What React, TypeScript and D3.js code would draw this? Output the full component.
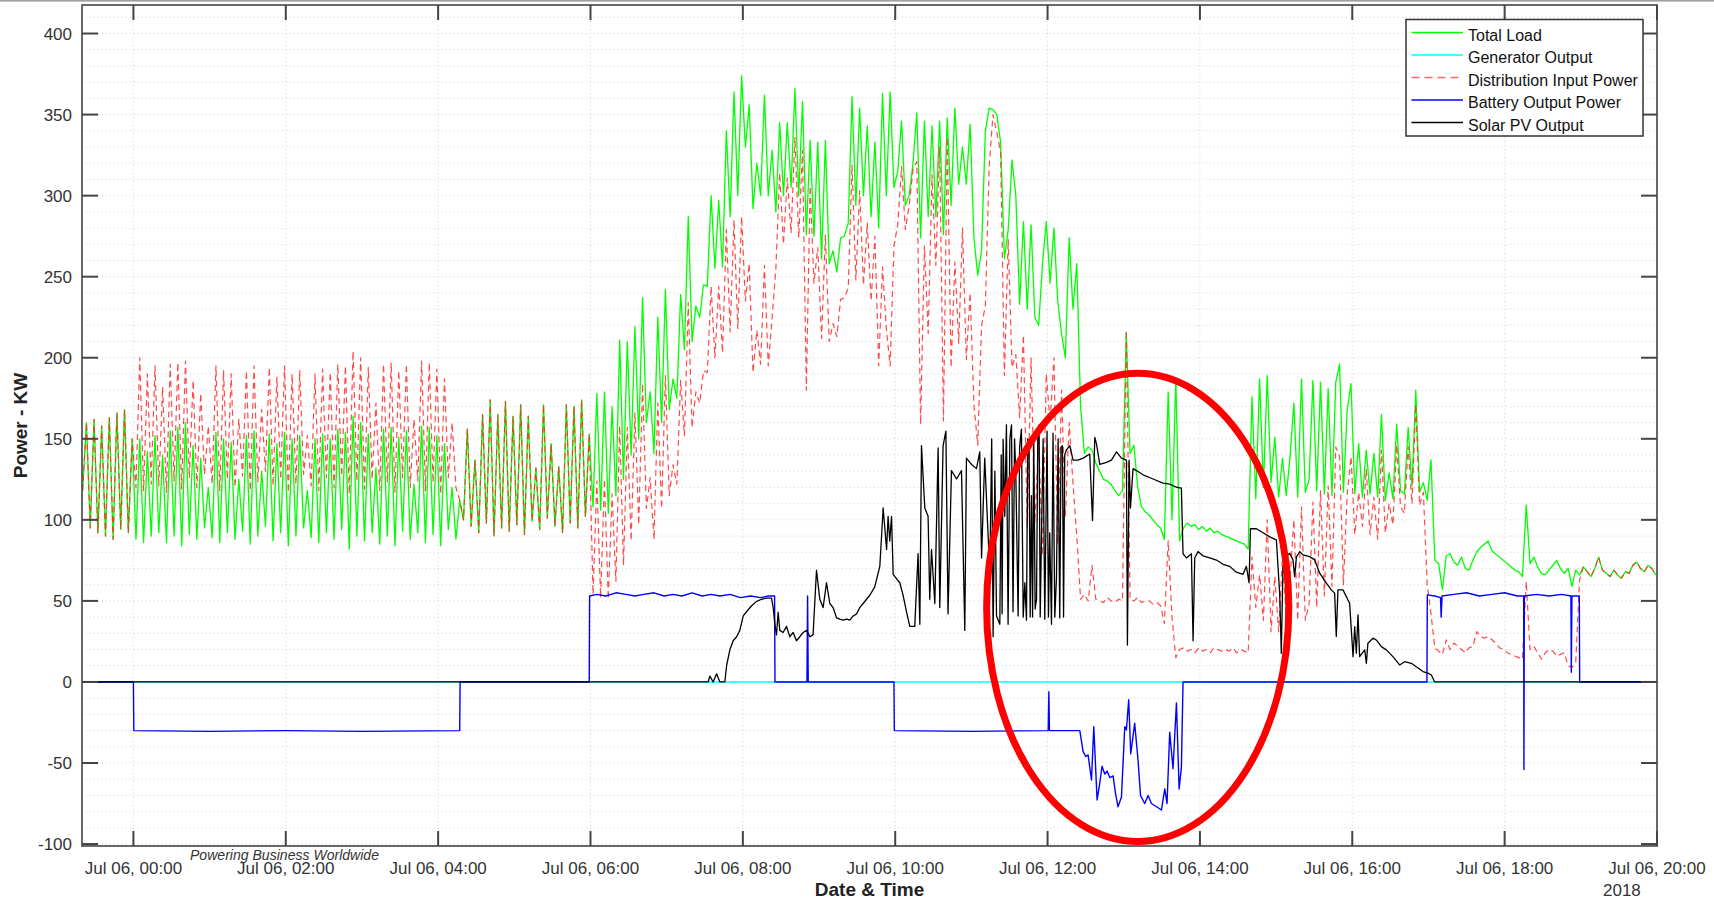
import React from 'react';
import * as d3 from 'd3';

// Time axis in minutes from Jul 06 00:00; load & distribution sampled every 3 minutes from -40.
const T0 = -40;
const STEP = 3;

const loadKw = [
  118,160,95,162,92,158,90,163,88,166,94,168,92,150,88,150,86,142,90,152,
  92,140,86,155,90,157,84,160,91,146,88,138,95,120,89,154,86,150,92,148,
  88,125,93,152,85,155,90,130,96,153,87,147,92,154,84,150,90,152,95,118,
  89,150,86,153,92,150,88,156,94,154,82,164,90,160,87,153,92,132,85,156,
  90,157,84,151,93,155,88,122,92,158,86,157,91,152,84,147,94,120,88,112,
  100,156,96,137,92,165,98,174,90,165,95,173,93,164,97,171,91,164,99,132,
  94,171,101,147,96,133,92,171,98,170,95,174,102,153,108,178,106,179,104,170,
  115,211,125,210,140,219,150,237,160,179,141,225,160,242,168,187,175,239,205,287,
  210,232,225,245,244,300,255,297,256,340,287,364,300,374,330,356,292,320,300,362,
  300,328,290,345,300,345,305,366,300,358,276,334,275,333,261,334,258,266,253,274,
  275,283,361,294,354,300,343,287,333,280,363,300,364,305,315,346,294,300,320,351,
  274,346,287,343,287,346,276,348,294,354,307,330,307,344,274,251,266,340,354,353,
  350,333,261,279,322,300,233,284,230,282,225,220,258,284,246,280,235,215,200,274,
  230,258,170,141,145,143,135,130,125,124,122,118,115,118,215,141,146,120,108,105,
  103,100,97,95,88,179,100,187,87,95,98,96,97,94,96,93,95,92,93,91,
  90,89,88,87,86,85,82,176,113,187,120,189,123,151,114,138,115,139,172,114,
  187,117,125,186,118,185,116,181,115,185,196,117,168,184,116,147,114,143,116,141,
  114,165,112,129,113,159,118,116,157,121,180,117,123,112,137,75,73,57,78,79,
  74,72,77,70,69,75,80,83,85,87,81,79,77,75,73,71,69,68,65,109,
  73,77,71,67,66,69,72,75,70,67,70,59,69,66,71,68,65,70,77,69,
  67,65,69,66,64,68,67,72,74,70,68,72,70,66,
];

const distributionKw = [
  118,160,95,162,92,158,90,163,88,166,94,168,92,150,120,200,118,190,122,195,
  121,182,117,196,124,197,119,198,126,186,120,178,128,158,122,195,118,192,125,190,
  120,162,127,192,118,195,123,168,130,194,121,188,125,195,117,190,122,192,128,152,
  121,190,118,193,126,191,120,196,127,195,116,204,124,200,119,194,125,172,118,196,
  123,197,117,192,126,196,120,162,124,198,118,197,123,193,116,187,126,160,120,112,
  100,156,96,137,92,165,98,174,90,165,95,173,93,164,97,171,91,164,99,132,
  94,171,101,147,96,133,92,171,98,170,95,174,102,153,54,124,52,125,51,116,
  62,158,72,157,87,166,97,184,107,126,88,172,107,189,115,134,122,186,152,234,
  157,179,172,192,191,244,200,244,203,279,216,285,218,287,235,258,191,217,196,257,
  195,224,255,314,270,311,277,336,274,328,180,306,246,268,212,276,210,221,213,236,
  237,243,319,248,303,245,283,235,275,195,256,218,195,269,282,318,279,294,316,321,
  159,269,215,313,257,330,161,336,194,259,209,280,199,240,171,146,220,232,318,350,
  339,327,189,273,194,202,163,214,95,200,98,150,78,190,160,200,85,180,102,160,
  123,90,51,54,50,72,51,50,49,52,50,49,51,50,217,51,50,52,49,50,
  50,48,49,47,36,87,40,15,20,21,19,20,18,21,19,20,18,21,20,19,
  20,19,21,18,20,19,18,77,46,66,38,100,31,65,31,77,40,64,100,38,
  108,38,48,111,46,118,53,121,59,145,139,60,116,139,91,117,96,131,91,114,
  88,143,92,110,97,146,108,104,145,110,171,109,117,60,42,21,19,17,26,20,
  24,22,20,18,21,22,31,28,27,28,26,24,21,20,18,17,16,15,14,62,
  20,22,18,14,18,20,19,16,17,18,10,9,12,63,71,68,65,70,77,69,
  67,65,69,66,64,68,67,72,74,70,68,72,70,66,
];

// [minute, kW]
const generatorKw: [number, number][] = [[-40.5, 0], [1200, 0]];

const batteryKw: [number, number][] = [
  [-40.5,0],[0,0],[0.3,-30],[60,-30.5],[120,-30],[180,-30.5],[257,-30],[257.3,0],[359,0],[359.3,53],
  [365,54],[372,53],[380,55],[388,54],[395,53],[402,54],[410,55],[418,53],[425,54],[432,53],
  [440,55],[448,53],[455,54],[462,53],[470,54],[478,52],[486,53],[494,52],[500,53],[505,53],
  [505.3,0],[530.5,0],[531,53],[531.5,0],[599,0],[599.3,-30],[660,-30.5],[720.5,-30],[721,-6],[721.5,-30],
  [745.4,-30],[748,-43],[750.1,-46],[751.9,-45],[754.6,-60.5],[756.4,-27.6],[759,-72.8],[761.1,-62.5],[762.9,-52],[765,-56.8],
  [766.9,-55],[769,-59],[771.6,-58],[773.5,-68.7],[775.5,-77],[778.2,-71],[780.8,-27.6],[782.1,-29.6],[783.9,-11],[785.5,-44.4],
  [788.6,-25.5],[791.3,-48.6],[793.2,-70],[796.5,-75],[799.2,-70],[801.8,-75],[805.8,-77],[809.7,-79],[812.3,-66],[814.1,-75],
  [816.2,-31],[818.8,-53.5],[821.5,-13],[823.6,-66],[825.4,-52.7],[826.7,0],[1018.8,0],[1019.1,53.7],[1025,53],[1029.5,52],
  [1030,40],[1030.7,53],[1040,54],[1050,55],[1060,53],[1070,54],[1080,55],[1090,53],[1095,53],[1095.2,-54],
  [1095.5,53],[1105,54],[1115,53],[1125,54],[1132.2,53],[1132.5,6],[1133,53],[1138.8,53],[1139.1,0],[1200,0],
];

const solarKw: [number, number][] = [
  [-40.5,0],[452.7,0],[454,3.6],[456.6,0],[459.3,5],[461.9,0],[465.8,0],[467.2,10],[469.8,20],[472.4,25.4],
  [475.1,27.9],[477.6,31.8],[480.3,40.7],[482.9,43.3],[486.9,47],[490.8,49.7],[494.7,51],[498.7,51.7],[502.6,51.7],[503.9,45.9],
  [505.2,35.6],[506.5,29],[507.8,43],[509.1,31.8],[511.7,30.5],[514.4,34.3],[517,27.9],[519.6,30.5],[522.2,25.4],[524.9,27.9],
  [527.5,30.5],[530.2,31.8],[532.8,27.9],[535.3,29],[538,68.9],[540.6,51],[543.2,45.9],[545.9,61.2],[548.5,48.4],[551.1,45.9],
  [553.8,39.5],[556.4,38.7],[559,38.1],[561.7,38.7],[564.3,38.1],[566.9,40.7],[569.6,42],[572.1,45.9],[574.7,48.4],[577.4,51],
  [580,53.5],[583.9,58.6],[587.9,71.5],[590.5,107.3],[593.2,81.7],[594.4,102.2],[595.7,86.9],[597.1,102.2],[598.4,66.4],[601,63.8],
  [603.6,61.2],[606.2,53.5],[608.9,43.3],[611.5,34.3],[615.4,34.3],[618,79.1],[619.4,35.6],[620.7,145.7],[623.3,107.3],[625.9,102.2],
  [627.2,51],[628.6,81.7],[631.2,48.4],[633.8,144.4],[635.1,45.9],[637.7,145.7],[639.9,154.7],[641.6,42],[644.3,130.4],[648.3,125.2],
  [652.2,130.4],[654.8,31.8],[656.1,138.1],[660.1,134.2],[664,131.6],[666.6,141.9],[668,76.5],[670.5,138.1],[674.5,66.4],[676,150],
  [677.1,27.9],[678.5,130],[679.8,40.7],[682.4,35.6],[683.5,140],[684.2,42],[685,149.6],[686.3,102.2],[687.6,158.6],[688.9,35.6],
  [690.3,150],[691.6,158.6],[692.8,43.3],[694,150],[695,127.8],[696.8,40.7],[698,145],[699.4,156],[700.8,40],[702.1,61.2],
  [703.4,38.1],[704.4,150],[705.4,148.3],[706.3,40],[707.3,115],[708.2,40],[709.1,152.2],[710.2,45],[711.3,51],[712.3,150],
  [713.3,158.6],[714.2,40],[715.2,89.4],[716.5,150],[717.8,38.7],[719.6,154.7],[720.7,40],[721.7,92],[723.1,35.6],[724.3,153.5],
  [725.7,40],[727,63.8],[728.3,150],[729.6,39.5],[730.6,145],[731.7,145.7],[732.6,40],[733.5,140],[734.9,143.2],[737.5,145.7],
  [740.1,136.8],[744,136.8],[748,138.1],[753.2,140.6],[755.4,99.6],[757.2,150.9],[758.5,147],[761.1,134.2],[766.4,135.5],[770.3,136.8],
  [774.3,141.9],[778.2,138.1],[782.1,136.8],[782.9,22.8],[784.2,136.8],[785.3,107.3],[787.3,131.6],[790,130.4],[795.2,127.8],[803.1,125.2],
  [810.9,122.7],[816.2,122],[821.5,120.1],[825.4,119.5],[826.7,79.1],[829.4,76.5],[833.3,79.1],[834.6,25.4],[835.9,76.5],[838.5,80.4],
  [842.4,77.8],[847.7,76.5],[853,75.2],[858.2,72.6],[863.5,71.3],[868.7,67.7],[873.9,66.4],[876.6,71.3],[878.7,61.2],[879.8,94.5],
  [884.5,94.5],[889.7,92],[895,89.5],[900.2,87.7],[902.8,54.7],[904.1,17.7],[905.4,71.2],[908.1,77.3],[910.7,79.4],[913.3,75.3],
  [914.6,65],[916,77],[918.6,80.4],[921.2,78.4],[926.4,77.3],[930.4,75.3],[934.3,67.1],[939.6,60.9],[943.5,56.8],[946.1,54.8],
  [947.4,28],[948.7,56.8],[952.7,56.8],[957.9,48.6],[960.6,15.6],[961.9,34.1],[963.2,17.7],[964.5,41.4],[965.8,15.6],[969.8,19.8],
  [971.1,11.5],[972.3,23.9],[976.3,27],[978.9,25.9],[982.9,21.8],[986.8,19.8],[992,15.6],[997.3,10.5],[1001.2,12.5],[1006.5,11.5],
  [1010.4,9.4],[1015.7,6.4],[1019.6,5.4],[1022.3,4.3],[1024.9,0],[1200,0],
];

const xTickMinutes = [0, 120, 240, 360, 480, 600, 720, 840, 960, 1080, 1200];
const xTickLabels = [
  'Jul 06, 00:00', 'Jul 06, 02:00', 'Jul 06, 04:00', 'Jul 06, 06:00', 'Jul 06, 08:00', 'Jul 06, 10:00',
  'Jul 06, 12:00', 'Jul 06, 14:00', 'Jul 06, 16:00', 'Jul 06, 18:00', 'Jul 06, 20:00',
];
const yTicks = [-100, -50, 0, 50, 100, 150, 200, 250, 300, 350, 400];
const yMinorGrid = d3.range(-100, 411, 10);

const legendNames = ['Total Load', 'Generator Output', 'Distribution Input Power', 'Battery Output Power', 'Solar PV Output'];
const seriesColors = ['#00ff00', '#00ffff', '#ff2a2a', '#0000ff', '#000000'];

// highlight ellipse: centre (minute, kW) and radii (minutes, kW)
const ellipseSpec = [791, 46, 119, 144.4];

export default function App() {
  const W = 1714, H = 900;
  const left = 82, right = 1657, top = 5, bottom = 846;
  const x = d3.scaleLinear().domain([-40.5, 1200]).range([left, right]);
  const y = d3.scaleLinear().domain([-101.2, 417.6]).range([bottom, top]);
  const line = d3.line<[number, number]>().x(d => x(d[0])).y(d => y(d[1]));

  const loadPts = loadKw.map((v, i) => [T0 + STEP * i, v] as [number, number]);
  const distPts = distributionKw.map((v, i) => [T0 + STEP * i, v] as [number, number]);

  const font = "'Liberation Sans', Arial, Helvetica, sans-serif";
  const axisCol = '#444';
  const [ecx, ecy, erx, ery] = ellipseSpec;

  return (
    <svg width={W} height={H} style={{ position: 'absolute', left: 0, top: 0 }} fontFamily={font}>
      <rect x={0} y={0} width={W} height={H} fill="#fff" />
      <rect x={0} y={0} width={W} height={1.6} fill="#a0a0a0" />
      <defs>
        <clipPath id="plotClip">
          <rect x={left} y={top} width={right - left} height={bottom - top} />
        </clipPath>
      </defs>

      {/* grid */}
      <g stroke="#d2d2d2" strokeWidth={1} strokeDasharray="1,3">
        {yMinorGrid.map(v => (
          <line key={'gy' + v} x1={left} x2={right} y1={y(v)} y2={y(v)} />
        ))}
        {xTickMinutes.map(t => (
          <line key={'gx' + t} x1={x(t)} x2={x(t)} y1={top} y2={bottom} />
        ))}
      </g>

      <g clipPath="url(#plotClip)" fill="none" strokeLinejoin="round">
        <path d={line(loadPts) || ''} stroke={seriesColors[0]} strokeWidth={1.3} />
        <path d={line(generatorKw) || ''} stroke={seriesColors[1]} strokeWidth={1.6} />
        <path d={line(distPts) || ''} stroke={seriesColors[2]} strokeWidth={1.2} strokeDasharray="6,4" opacity={0.85} />
        <path d={line(batteryKw) || ''} stroke={seriesColors[3]} strokeWidth={1.4} />
        <path d={line(solarKw) || ''} stroke={seriesColors[4]} strokeWidth={1.3} />
      </g>

      {/* annotation ellipse */}
      <ellipse
        cx={x(ecx)} cy={y(ecy)}
        rx={x(ecx + erx) - x(ecx)} ry={y(ecy) - y(ecy + ery)}
        fill="none" stroke="#ff0000" strokeWidth={7}
      />

      {/* axes box */}
      <rect x={left} y={top} width={right - left} height={bottom - top} fill="none" stroke={axisCol} strokeWidth={1.6} />
      <g stroke={axisCol} strokeWidth={2}>
        {yTicks.map(v => (
          <g key={'ty' + v}>
            <line x1={left} x2={left + 16} y1={y(v)} y2={y(v)} />
            <line x1={right} x2={right - 16} y1={y(v)} y2={y(v)} />
          </g>
        ))}
        {xTickMinutes.map(t => (
          <g key={'tx' + t}>
            <line x1={x(t)} x2={x(t)} y1={bottom} y2={bottom - 15} />
            <line x1={x(t)} x2={x(t)} y1={top} y2={top + 15} />
          </g>
        ))}
      </g>

      {/* tick labels */}
      <g fill="#333" fontSize={17}>
        {yTicks.map(v => (
          <text key={'ly' + v} x={72} y={y(v) + 6} textAnchor="end">{v}</text>
        ))}
        {xTickMinutes.map((t, i) => (
          <text key={'lx' + t} x={x(t)} y={874} textAnchor="middle">{xTickLabels[i]}</text>
        ))}
        <text x={1603} y={896}>2018</text>
      </g>

      {/* watermark */}
      <text x={190} y={860} fontSize={15} fontStyle="italic" fill="#333" textLength={189} lengthAdjust="spacingAndGlyphs">
        Powering Business Worldwide
      </text>

      {/* axis titles */}
      <text x={(left + right) / 2} y={896} textAnchor="middle" fontSize={19} fontWeight="bold" fill="#222">Date &amp; Time</text>
      <text transform={`translate(27, ${(top + bottom) / 2}) rotate(-90)`} textAnchor="middle" fontSize={19} fontWeight="bold" fill="#222">Power - KW</text>

      {/* legend */}
      <g>
        <rect x={1406} y={19.5} width={237} height={116.5} fill="#fff" stroke="#333" strokeWidth={1.5} />
        {legendNames.map((name, i) => {
          const ly = 32.5 + 22.5 * i;
          return (
            <g key={name}>
              <line x1={1411.5} x2={1463} y1={ly} y2={ly} stroke={seriesColors[i]} strokeWidth={1.5}
                strokeDasharray={i === 2 ? '8,5' : undefined} opacity={i === 2 ? 0.7 : 1} />
              <text x={1468} y={ly + 8} fontSize={16} fill="#111">{name}</text>
            </g>
          );
        })}
      </g>
    </svg>
  );
}
